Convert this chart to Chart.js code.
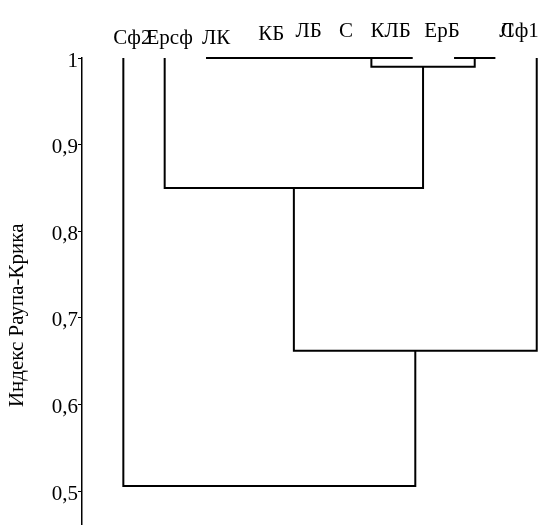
<!DOCTYPE html>
<html>
<head>
<meta charset="utf-8">
<script src="https://cdn.jsdelivr.net/npm/chart.js@4"></script>
<style>
  html, body { margin: 0; padding: 0; background: #fff; }
  #wrap { width: 545px; height: 525px; }
</style>
</head>
<body>
<div id="wrap"><canvas id="dendro"></canvas></div>
<script>
// leaves, left to right, and their slot along the bottom
const leafNames = ['Сф2', 'Ерсф', 'ЛК', 'КБ', 'ЛБ', 'С', 'КЛБ', 'ЕрБ', 'Л', 'Сф1'];
const leafPos = [1, 2, 3, 4, 5, 6, 8, 9, 10, 11];
const leafHeight = 1;

// merges: which two nodes join, and at what Raup-Crick value
const mergeNames = ['A', 'B', 'AB', 'N4', 'N5', 'N6'];
const mergeLeft = ['ЛК', 'ЕрБ', 'A', 'Ерсф', 'N4', 'Сф2'];
const mergeRight = ['КЛБ', 'Л', 'B', 'AB', 'Сф1', 'N5'];
const mergeHeights = [1, 1, 0.99, 0.85, 0.662, 0.506];
const mergeJoin = [7, 9.5, null, null, null, null]; // flat groups hand their link up here

const yTicks = [0.5, 0.6, 0.7, 0.8, 0.9, 1];
const yTitle = 'Индекс Раупа-Крика';

// label placement (pixels)
const labelDx = [9, 5, 10, 24, 20, 16, -22, -12, 11, -17];
const labelBase = [44, 44, 44, 40, 37, 37, 37, 37, 37, 37];

const FONT = 'Liberation Serif';
const FSIZE = 21;

// node positions
const nodes = {};
leafNames.forEach((n, i) => { nodes[n] = { x: leafPos[i], y: leafHeight }; });

const datasets = [];
mergeNames.forEach((name, i) => {
  const l = nodes[mergeLeft[i]];
  const r = nodes[mergeRight[i]];
  const h = mergeHeights[i];
  datasets.push({
    data: [{ x: l.x, y: l.y }, { x: l.x, y: h }, { x: r.x, y: h }, { x: r.x, y: r.y }],
    borderColor: '#000',
    borderWidth: 2,
    pointRadius: 0,
    tension: 0,
    fill: false,
    clip: false
  });
  nodes[name] = { x: mergeJoin[i] !== null ? mergeJoin[i] : (l.x + r.x) / 2, y: h };
});

const leafLabels = {
  id: 'leafLabels',
  afterDraw(chart) {
    const ctx = chart.ctx;
    const xs = chart.scales.x;
    ctx.save();
    ctx.fillStyle = '#000';
    ctx.font = FSIZE + 'px "' + FONT + '"';
    ctx.textAlign = 'center';
    ctx.textBaseline = 'alphabetic';
    leafNames.forEach((n, i) => {
      ctx.fillText(n, xs.getPixelForValue(leafPos[i]) + labelDx[i], labelBase[i]);
    });
    // axis title, a bit below the middle of the axis like the original
    const ys = chart.scales.y;
    ctx.translate(17, ys.getPixelForValue(0.703));
    ctx.rotate(-Math.PI / 2);
    ctx.textBaseline = 'middle';
    ctx.fillText(yTitle, 0, 0);
    ctx.restore();
  }
};

new Chart(document.getElementById('dendro'), {
  type: 'line',
  data: { datasets: datasets },
  options: {
    responsive: true,
    maintainAspectRatio: false,
    animation: false,
    events: [],
    layout: { padding: { top: 58, right: 0, bottom: 1, left: 0 } },
    plugins: { legend: { display: false }, tooltip: { enabled: false } },
    scales: {
      x: { type: 'linear', min: 0, max: 11.2, display: false },
      y: {
        type: 'linear',
        position: 'left',
        min: 0.462,
        max: 1,
        afterFit: (scale) => {
          scale.width = 82;
          scale.paddingTop = 0;
          scale.paddingBottom = 0;
        },
        afterBuildTicks: (scale) => { scale.ticks = yTicks.map(v => ({ value: v })); },
        border: { display: true, color: '#000', width: 1.5 },
        grid: { drawOnChartArea: false, drawTicks: true, tickLength: 4, tickColor: '#000', tickWidth: 1 },
        ticks: {
          color: '#000',
          padding: 0,
          labelOffset: 3,
          font: { family: FONT, size: FSIZE },
          callback: (v) => String(v).replace('.', ',')
        }
      }
    }
  },
  plugins: [leafLabels]
});
</script>
</body>
</html>
